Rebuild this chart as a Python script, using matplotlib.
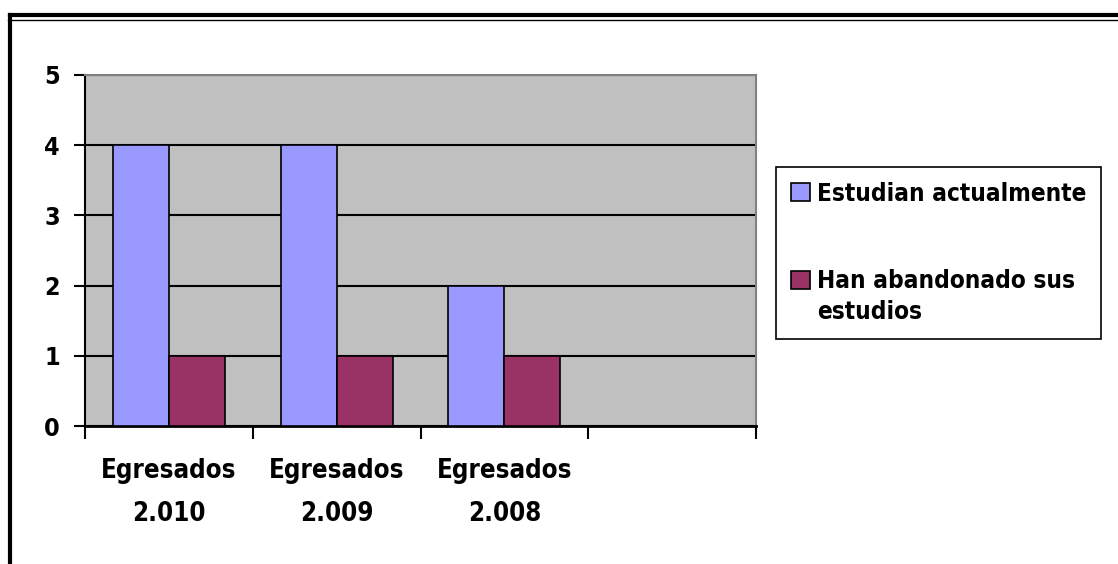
import matplotlib
matplotlib.use("Agg")
import matplotlib.pyplot as plt
import matplotlib.lines as mlines
import matplotlib.patches as patches
from matplotlib.legend_handler import HandlerPatch
import numpy as np

# data
categories = ["Egresados\n2.010", "Egresados\n2.009", "Egresados\n2.008", ""]
estudian = [4, 4, 2, 0]
abandonado = [1, 1, 1, 0]
series_names = ["Estudian actualmente", "Han abandonado sus\nestudios"]
series_colors = ['#9999FF', '#993366']
y_ticks = [0, 1, 2, 3, 4, 5]

plt.rcParams['font.family'] = ['DejaVu Sans']
plt.rcParams['font.stretch'] = 'condensed'
plt.rcParams['font.weight'] = 'bold'

W, H = 1118, 564
fig = plt.figure(figsize=(W / 100, H / 100), dpi=100)
ax = fig.add_axes([85 / W, (H - 426) / H, 671 / W, 351 / H])
ax.set_facecolor('#C0C0C0')

x = np.arange(len(categories))
bw = 1 / 3
n = 3  # only real categories get bars
ax.bar(x[:n] - bw / 2, estudian[:n], bw, color=series_colors[0], edgecolor='black',
       linewidth=1.2, zorder=3)
ax.bar(x[:n] + bw / 2, abandonado[:n], bw, color=series_colors[1], edgecolor='black',
       linewidth=1.2, zorder=3)

ax.set_xlim(-0.5, len(categories) - 0.5)
ax.set_ylim(0, 5)
ax.set_yticks(y_ticks)
ax.yaxis.grid(True, color='black', linewidth=1.5, zorder=1)
ax.set_axisbelow(True)

ax.set_xticks(np.arange(len(categories) + 1) - 0.5, minor=False)
ax.set_xticklabels([])
ax.set_xticks(x[:n], minor=True)
ax.set_xticklabels(categories[:n], minor=True, fontsize=18.5, fontweight='bold',
                   linespacing=1.85)
ax.tick_params(axis='x', which='major', direction='out', length=9, width=1.5)
ax.tick_params(axis='x', which='minor', length=0, pad=23)
ax.tick_params(axis='y', direction='out', length=8, width=1.5, labelsize=18, pad=10)
for lbl in ax.get_yticklabels():
    lbl.set_fontweight('bold')

ax.spines['left'].set_linewidth(1.5)
ax.spines['bottom'].set_linewidth(2)
ax.spines['top'].set_color('#808080')
ax.spines['right'].set_color('#808080')
ax.spines['top'].set_linewidth(1.5)
ax.spines['right'].set_linewidth(1.5)


# legend: square swatches, the two-line entry has its swatch on the first line
def first_line_patch(legend, orig_handle, xdescent, ydescent, width, height, fontsize):
    return patches.Rectangle((-xdescent, -ydescent + 0.72 * fontsize), width, height)


proxies = [patches.Rectangle((0, 0), 1, 1, facecolor=c, edgecolor='black', linewidth=1.2)
           for c in series_colors]
leg = ax.legend(proxies, series_names, loc='upper left',
                bbox_to_anchor=(776 / W, 1 - 167 / H),
                bbox_transform=fig.transFigure, fontsize=17.5, frameon=True,
                fancybox=False, edgecolor='black', framealpha=1,
                handlelength=0.8, handleheight=0.8, handletextpad=0.3,
                labelspacing=2.6, borderpad=0.6, borderaxespad=0,
                handler_map={proxies[1]: HandlerPatch(patch_func=first_line_patch)})
leg.get_frame().set_linewidth(1.2)
for t in leg.get_texts():
    t.set_fontweight('bold')
    t.set_linespacing(1.4)

# outer chart frame
fig.add_artist(mlines.Line2D([10 / W, 1], [1 - 15 / H, 1 - 15 / H],
                             transform=fig.transFigure, color='black', linewidth=3))
fig.add_artist(mlines.Line2D([8 / W, 1], [1 - 19.5 / H, 1 - 19.5 / H],
                             transform=fig.transFigure, color='black', linewidth=1))
fig.add_artist(mlines.Line2D([10 / W, 10 / W], [0, 1 - 15 / H],
                             transform=fig.transFigure, color='black', linewidth=3))

fig.savefig("out.png", dpi=100)
